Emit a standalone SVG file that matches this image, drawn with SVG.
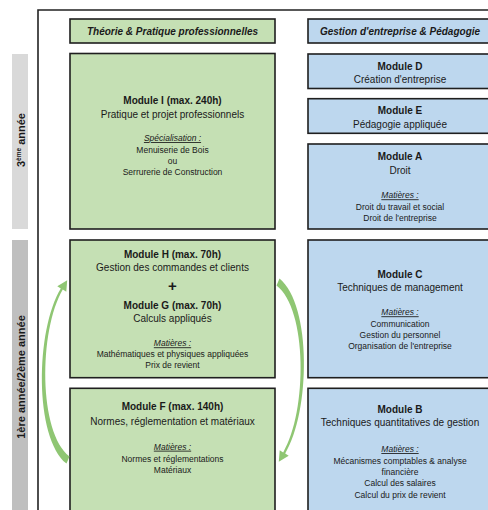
<svg xmlns="http://www.w3.org/2000/svg" width="488" height="510" viewBox="0 0 488 510">
<style>
text{font-family:"Liberation Sans",Arial,sans-serif;fill:#1a1a1a;text-anchor:middle}
.g{fill:#c5e0b4;stroke:#1f1f1f;stroke-width:1.6}
.b{fill:#bdd7ee;stroke:#1f1f1f;stroke-width:1.6}
.h{font-size:10px;font-weight:bold;font-style:italic}
.t{font-size:10px;font-weight:bold}
.s{font-size:10px}
.m{font-size:8.5px;font-style:italic;text-decoration:underline}
.l{font-size:8.5px}
.v{font-size:11px;font-weight:bold}
.arr{fill:#8fc673}
</style>
<rect width="488" height="510" fill="#fff"/>
<g id="frame">
<path d="M38 510 V10 H490" fill="none" stroke="#222" stroke-width="1.6"/>
</g>
<g id="year3">
<rect x="12" y="54" width="16" height="175" fill="#d9d9d9"/>
<text class="v" transform="translate(24.5,140) rotate(-90)">3<tspan font-size="6.5" dy="-4">ème</tspan><tspan dy="4"> année</tspan></text>
</g>
<g id="year12">
<rect x="12" y="240" width="16" height="275" fill="#bfbfbf"/>
<text class="v" transform="translate(24.5,377) rotate(-90)">1ère année/2ème année</text>
</g>
<g id="header-left">
<rect class="g" x="70" y="19" width="205" height="24"/>
<text class="h" x="172.5" y="34.5">Théorie &amp; Pratique professionnelles</text>
</g>
<g id="header-right">
<rect class="b" x="308" y="19" width="184" height="24"/>
<text class="h" x="400" y="34.5">Gestion d'entreprise &amp; Pédagogie</text>
</g>
<g id="moduleI">
<rect class="g" x="70" y="53.5" width="205" height="175.5"/>
<text class="t" x="172.5" y="103.5">Module I (max. 240h)</text>
<text class="s" x="172.5" y="117.5">Pratique et projet professionnels</text>
<text class="m" x="172.5" y="141">Spécialisation :</text>
<text class="l" x="172.5" y="152.5">Menuiserie de Bois</text>
<text class="l" x="172.5" y="163.5">ou</text>
<text class="l" x="172.5" y="174.5">Serrurerie de Construction</text>
</g>
<g id="moduleD">
<rect class="b" x="308" y="54" width="184" height="34.5"/>
<text class="t" x="400" y="70">Module D</text>
<text class="s" x="400" y="83">Création d'entreprise</text>
</g>
<g id="moduleE">
<rect class="b" x="308" y="98.7" width="184" height="34.6"/>
<text class="t" x="400" y="114.3">Module E</text>
<text class="s" x="400" y="127.8">Pédagogie appliquée</text>
</g>
<g id="moduleA">
<rect class="b" x="308" y="144" width="184" height="85"/>
<text class="t" x="400" y="160.3">Module A</text>
<text class="s" x="400" y="174.2">Droit</text>
<text class="m" x="400" y="198.3">Matières :</text>
<text class="l" x="400" y="209.6">Droit du travail et social</text>
<text class="l" x="400" y="220.9">Droit de l'entreprise</text>
</g>
<g id="moduleHG">
<rect class="g" x="70" y="240" width="205" height="137.7"/>
<text class="t" x="172.5" y="257.6">Module H (max. 70h)</text>
<text class="s" x="172.5" y="271.3">Gestion des commandes et clients</text>
<text x="172.5" y="291" font-size="15" font-weight="bold">+</text>
<text class="t" x="172.5" y="308.6">Module G (max. 70h)</text>
<text class="s" x="172.5" y="321.9">Calculs appliqués</text>
<text class="m" x="172.5" y="346.3">Matières :</text>
<text class="l" x="172.5" y="357.3">Mathématiques et physiques appliquées</text>
<text class="l" x="172.5" y="368.3">Prix de revient</text>
</g>
<g id="moduleC">
<rect class="b" x="308" y="240" width="184" height="137.7"/>
<text class="t" x="400" y="277.6">Module C</text>
<text class="s" x="400" y="291.3">Techniques de management</text>
<text class="m" x="400" y="315.3">Matières :</text>
<text class="l" x="400" y="326.7">Communication</text>
<text class="l" x="400" y="338">Gestion du personnel</text>
<text class="l" x="400" y="349.3">Organisation de l'entreprise</text>
</g>
<g id="moduleF">
<rect class="g" x="70" y="388.3" width="205" height="130"/>
<text class="t" x="172.5" y="410.3">Module F (max. 140h)</text>
<text class="s" x="172.5" y="424.6">Normes, réglementation et matériaux</text>
<text class="m" x="172.5" y="449.7">Matières :</text>
<text class="l" x="172.5" y="462">Normes et réglementations</text>
<text class="l" x="172.5" y="473">Matériaux</text>
</g>
<g id="moduleB">
<rect class="b" x="308" y="388.3" width="184" height="130"/>
<text class="t" x="400" y="412.9">Module B</text>
<text class="s" x="400" y="426.3">Techniques quantitatives de gestion</text>
<text class="m" x="400" y="452">Matières :</text>
<text class="l" x="400" y="463.7">Mécanismes comptables &amp; analyse</text>
<text class="l" x="400" y="475">financière</text>
<text class="l" x="400" y="486.3">Calcul des salaires</text>
<text class="l" x="400" y="497.7">Calcul du prix de revient</text>
</g>
<g id="connectors">
<path id="arrowL" class="arr" d="M66.5 463.5 C34 437 35.5 330 60.8 288.4 L57.3 286.2 L67.2 280.2 L66.3 291.8 L62.8 289.6 C38.5 331 38.5 433 69.5 456.5 Z"/>
<path id="arrowR" class="arr" transform="rotate(180 173 371)" d="M66.5 463.5 C34 437 35.5 330 60.8 288.4 L57.3 286.2 L67.2 280.2 L66.3 291.8 L62.8 289.6 C38.5 331 38.5 433 69.5 456.5 Z"/>
</g>
</svg>
